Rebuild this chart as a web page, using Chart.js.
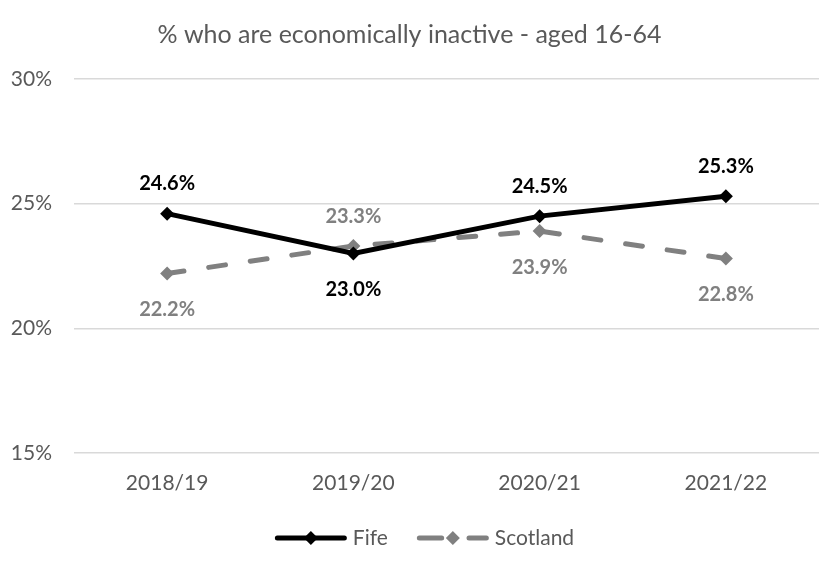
<!DOCTYPE html>
<html>
<head>
<meta charset="utf-8">
<script src="https://cdn.jsdelivr.net/npm/chart.js@4.4.0/dist/chart.umd.min.js"></script>
<style>
  html, body { margin: 0; padding: 0; background: #fff; }
  #wrap { width: 819px; height: 562px; }
</style>
</head>
<body>
<div id="wrap"><canvas id="inactiveChart"></canvas></div>
<script>
'use strict';

// --- data ---
const YEARS = ['2018/19', '2019/20', '2020/21', '2021/22'];
const FIFE = [24.6, 23.0, 24.5, 25.3];
const SCOTLAND = [22.2, 23.3, 23.9, 22.8];
const Y_TICKS = [15, 20, 25, 30];

const FONT = 'Lato, "Open Sans", sans-serif';
const GREY_TEXT = '#595959';

// value labels: the higher series gets its label above the point, the lower one below
const valueLabels = {
  id: 'valueLabels',
  afterDatasetsDraw(chart) {
    const ctx = chart.ctx;
    const sets = chart.data.datasets;
    ctx.save();
    ctx.font = 'bold 20px ' + FONT;
    ctx.textAlign = 'center';
    ctx.textBaseline = 'middle';
    sets.forEach((ds, i) => {
      const other = sets[1 - i];
      chart.getDatasetMeta(i).data.forEach((pt, j) => {
        const above = ds.data[j] >= other.data[j];
        ctx.fillStyle = ds.borderColor;
        ctx.fillText(ds.data[j].toFixed(1) + '%', pt.x, pt.y + (above ? -30 : 36));
      });
    });
    ctx.restore();
  },
};

// Excel-style legend: line + diamond swatch, then the name
const lineLegend = {
  id: 'lineLegend',
  afterDraw(chart, args, opts) {
    const ctx = chart.ctx;
    const sets = chart.data.datasets;
    ctx.save();
    ctx.font = opts.size + 'px ' + FONT;
    const widths = sets.map(ds => opts.swatch + opts.textGap + ctx.measureText(ds.label).width);
    const total = widths.reduce((a, b) => a + b, 0) + opts.itemGap * (sets.length - 1);
    let x = chart.width / 2 + opts.shift - total / 2;
    const y = opts.y;
    sets.forEach((ds, i) => {
      ctx.strokeStyle = ds.borderColor;
      ctx.fillStyle = ds.borderColor;
      ctx.lineWidth = 5;
      ctx.lineCap = 'round';
      ctx.setLineDash(ds.borderDash ? [opts.swatch * 0.31, opts.swatch * 0.38] : []);
      ctx.beginPath();
      ctx.moveTo(x + 2.5, y);
      ctx.lineTo(x + opts.swatch - 2.5, y);
      ctx.stroke();
      ctx.setLineDash([]);
      const cx = x + opts.swatch / 2;
      ctx.beginPath();
      ctx.moveTo(cx, y - 7); ctx.lineTo(cx + 7, y); ctx.lineTo(cx, y + 7); ctx.lineTo(cx - 7, y);
      ctx.closePath();
      ctx.fill();
      ctx.fillStyle = GREY_TEXT;
      ctx.textBaseline = 'middle';
      ctx.fillText(ds.label, x + opts.swatch + opts.textGap, y);
      x += widths[i] + opts.itemGap;
    });
    ctx.restore();
  },
};

new Chart(document.getElementById('inactiveChart').getContext('2d'), {
  type: 'line',
  data: {
    labels: YEARS,
    datasets: [
      {
        label: 'Fife',
        data: FIFE,
        borderColor: '#000000',
        backgroundColor: '#000000',
        borderWidth: 5,
        pointStyle: 'rectRot',
        pointRadius: 7,
        pointBorderWidth: 0,
        tension: 0,
      },
      {
        label: 'Scotland',
        data: SCOTLAND,
        borderColor: '#808080',
        backgroundColor: '#808080',
        borderWidth: 5,
        borderDash: [17, 25],
        borderCapStyle: 'round',
        pointStyle: 'rectRot',
        pointRadius: 7,
        pointBorderWidth: 0,
        tension: 0,
      },
    ],
  },
  options: {
    responsive: true,
    maintainAspectRatio: false,
    animation: false,
    layout: { autoPadding: false, padding: { left: 0, right: 0, top: 0, bottom: 43 } },
    plugins: {
      title: {
        display: true,
        text: '% who are economically inactive - aged 16-64',
        color: GREY_TEXT,
        font: { family: FONT, size: 25, weight: 'normal' },
        padding: { top: 20, bottom: 29 },
      },
      legend: { display: false },
      tooltip: { enabled: false },
      lineLegend: { y: 538, size: 21, swatch: 72, textGap: 6, itemGap: 29, shift: 15 },
    },
    scales: {
      x: {
        offset: true,
        grid: { display: false },
        border: { display: false },
        ticks: { color: GREY_TEXT, font: { family: FONT, size: 21 }, padding: 10 },
        afterFit(s) { s.height = 66; s.paddingLeft = 0; s.paddingRight = 0; },
      },
      y: {
        min: 15,
        max: 30,
        afterBuildTicks(s) { s.ticks = Y_TICKS.map(v => ({ value: v })); },
        grid: { color: '#d9d9d9', lineWidth: 1.5, drawTicks: false },
        border: { display: false },
        ticks: {
          color: GREY_TEXT,
          font: { family: FONT, size: 21 },
          padding: 22,
          callback: v => v + '%',
        },
        afterFit(s) { s.width = 74; },
      },
    },
  },
  plugins: [valueLabels, lineLegend],
});
</script>
</body>
</html>
